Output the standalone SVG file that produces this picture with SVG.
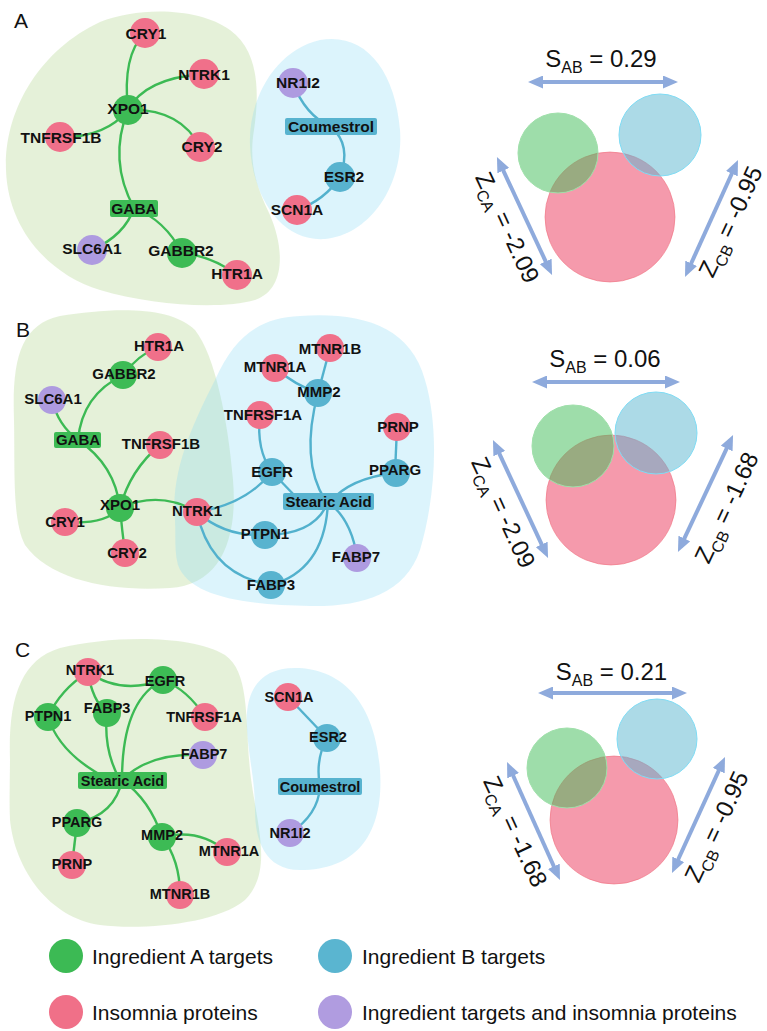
<svg xmlns="http://www.w3.org/2000/svg" width="767" height="1031" viewBox="0 0 767 1031">
<style>
.hg{fill:#a8d080;fill-opacity:0.3}
.hb{fill:#8adcf5;fill-opacity:0.3}
.eg{fill:none;stroke:#3cba54;stroke-width:2.4}
.eb{fill:none;stroke:#52b1cd;stroke-width:2.4}
.ng{fill:#3dbb55}.np{fill:#f0708a}.nb{fill:#58b3cf}.nv{fill:#ae9be0}
.lbl{font-family:"Liberation Sans",Arial,sans-serif;font-weight:bold;fill:#111;text-anchor:middle}
.fa{font-size:15.5px}.fb{font-size:15px}.fc{font-size:14.5px}
.pl{font-family:"Liberation Sans",Arial,sans-serif;font-size:21px;fill:#111}
.vt{font-family:"Liberation Sans",Arial,sans-serif;font-size:24px;fill:#111;text-anchor:middle}
.arr{stroke:#8eaadc;stroke-width:4;fill:none}
.vp{fill:#f0647f;fill-opacity:0.65;stroke:#f0707f;stroke-opacity:0.6}
.vg{fill:#3dbb55;fill-opacity:0.5;stroke:#9fe0aa;stroke-width:1}
.vb{fill:#5ab5d0;fill-opacity:0.5;stroke:#7fdcf5;stroke-width:1}
.lg{font-family:"Liberation Sans",Arial,sans-serif;font-size:21px;fill:#111}
</style>
<defs>
<marker id="ah" viewBox="0 0 15 13" refX="9" refY="6.5" markerWidth="15" markerHeight="13" markerUnits="userSpaceOnUse" orient="auto-start-reverse"><path d="M0,0 L15,6.5 L0,13 Z" fill="#8eaadc"/></marker>
</defs>

<!-- Panel labels -->
<text class="pl" x="14" y="28">A</text>
<text class="pl" x="16" y="337">B</text>
<text class="pl" x="15" y="657">C</text>

<!-- ===== Panel A ===== -->
<g id="hullsA">
<path class="hg" d="M6,170 C4,110 40,50 100,22 C140,6 200,8 230,30 C258,50 260,90 254,130 C248,165 258,190 270,215 C285,250 285,290 255,300 C220,310 150,305 100,290 C50,275 8,230 6,170 Z"/>
<path class="hb" d="M250,145 C248,100 275,50 320,40 C365,32 395,70 400,130 C404,185 370,235 325,239 C280,242 252,195 250,145 Z"/>
</g>
<g id="edgesA">
<path class="eg" d="M128,110 Q122,55 145,33"/>
<path class="eg" d="M128,110 Q145,78 204,74"/>
<path class="eg" d="M128,110 Q180,108 200,147"/>
<path class="eg" d="M128,110 Q105,138 60,137"/>
<path class="eg" d="M128,110 Q108,160 134,208"/>
<path class="eg" d="M134,208 Q125,235 92,250"/>
<path class="eg" d="M134,208 Q165,220 182,253"/>
<path class="eg" d="M182,253 Q212,256 237,275"/>
<path class="eb" d="M293,83 Q305,115 331,127"/>
<path class="eb" d="M331,127 Q352,145 340,177"/>
<path class="eb" d="M340,177 Q325,200 297,210"/>
</g>
<g id="A-CRY1"><circle class="np" cx="145" cy="33" r="15"/><text class="lbl fa" x="146" y="33" dy="0.36em">CRY1</text></g>
<g id="A-NTRK1"><circle class="np" cx="204" cy="74" r="15"/><text class="lbl fa" x="204" y="74" dy="0.36em">NTRK1</text></g>
<g id="A-XPO1"><circle class="ng" cx="128" cy="110" r="15"/><text class="lbl fa" x="128" y="108" dy="0.36em">XPO1</text></g>
<g id="A-TNFRSF1B"><circle class="np" cx="60" cy="137" r="15"/><text class="lbl fa" x="61" y="137" dy="0.36em">TNFRSF1B</text></g>
<g id="A-CRY2"><circle class="np" cx="200" cy="147" r="15"/><text class="lbl fa" x="202" y="146" dy="0.36em">CRY2</text></g>
<g id="A-GABA"><rect class="ng" x="110" y="200" width="48" height="17" rx="2"/><text class="lbl fa" x="134" y="208.5" dy="0.36em">GABA</text></g>
<g id="A-SLC6A1"><circle class="nv" cx="92" cy="250" r="15"/><text class="lbl fa" x="92" y="248" dy="0.36em">SLC6A1</text></g>
<g id="A-GABBR2"><circle class="ng" cx="182" cy="253" r="15"/><text class="lbl fa" x="181" y="250" dy="0.36em">GABBR2</text></g>
<g id="A-HTR1A"><circle class="np" cx="237" cy="275" r="15"/><text class="lbl fa" x="237" y="273" dy="0.36em">HTR1A</text></g>
<g id="A-NR1I2"><circle class="nv" cx="293" cy="83" r="15"/><text class="lbl fa" x="298" y="82" dy="0.36em">NR1I2</text></g>
<g id="A-Coumestrol"><rect class="nb" x="285" y="118" width="92" height="17" rx="2"/><text class="lbl fa" x="331" y="126.5" dy="0.36em">Coumestrol</text></g>
<g id="A-ESR2"><circle class="nb" cx="340" cy="177" r="15"/><text class="lbl fa" x="344" y="176" dy="0.36em">ESR2</text></g>
<g id="A-SCN1A"><circle class="np" cx="297" cy="210" r="15"/><text class="lbl fa" x="297" y="209" dy="0.36em">SCN1A</text></g>

<g id="vennA">
<circle class="vp" cx="610" cy="217" r="65"/>
<circle class="vg" cx="558" cy="153" r="40"/>
<circle class="vb" cx="660" cy="135" r="41"/>
<line class="arr" x1="534" y1="82" x2="672" y2="82" marker-start="url(#ah)" marker-end="url(#ah)"/>
<line class="arr" x1="499.5" y1="162.4" x2="549.5" y2="269.6" marker-start="url(#ah)" marker-end="url(#ah)"/>
<line class="arr" x1="735.5" y1="165.5" x2="687.5" y2="271.5" marker-start="url(#ah)" marker-end="url(#ah)"/>
<text class="vt" x="601" y="67">S<tspan font-size="16" dy="6">AB</tspan><tspan dy="-6"> = 0.29</tspan></text>
<text class="vt" transform="translate(500,231) rotate(65)">Z<tspan font-size="16" dy="6">CA</tspan><tspan dy="-6"> = -2.09</tspan></text>
<text class="vt" transform="translate(738,225) rotate(-65)">Z<tspan font-size="16" dy="6">CB</tspan><tspan dy="-6"> = -0.95</tspan></text>
</g>

<!-- ===== Panel B ===== -->
<g id="hullsB">
<path class="hg" d="M14,420 C12,360 20,325 60,316 C110,308 170,305 195,330 C215,355 228,420 233,480 C238,540 220,585 170,588 C110,592 50,580 25,545 C12,520 15,470 14,420 Z"/>
<path class="hb" d="M175,520 C170,470 195,420 215,380 C235,335 260,318 300,316 C360,312 410,325 425,380 C440,430 435,500 420,550 C405,595 360,607 310,606 C250,605 190,598 178,565 C174,550 176,535 175,520 Z"/>
</g>
<g id="edgesB">
<path class="eg" d="M158,347 Q138,355 123,375"/>
<path class="eg" d="M123,375 Q82,395 78,440"/>
<path class="eg" d="M52,400 Q58,425 78,440"/>
<path class="eg" d="M78,440 Q115,465 120,508"/>
<path class="eg" d="M160,445 Q130,470 120,508"/>
<path class="eg" d="M120,508 Q105,525 65,522"/>
<path class="eg" d="M120,508 Q122,530 125,553"/>
<path class="eg" d="M120,508 Q160,490 197,512"/>
<path class="eb" d="M197,512 Q245,505 272,472"/>
<path class="eb" d="M197,512 Q225,537 265,535"/>
<path class="eb" d="M197,512 Q210,575 271,585"/>
<path class="eb" d="M260,415 Q256,450 272,472"/>
<path class="eb" d="M272,472 L296,497"/>
<path class="eb" d="M275,368 Q295,385 318,393"/>
<path class="eb" d="M330,348 L318,393"/>
<path class="eb" d="M318,393 Q300,460 325,500"/>
<path class="eb" d="M397,427 L395,473"/>
<path class="eb" d="M395,473 Q350,478 330,502"/>
<path class="eb" d="M328,502 Q315,535 265,535"/>
<path class="eb" d="M328,502 Q325,570 271,585"/>
<path class="eb" d="M328,502 Q352,520 357,558"/>
</g>
<g id="B-HTR1A"><circle class="np" cx="158" cy="347" r="14"/><text class="lbl fb" x="159" y="346" dy="0.36em">HTR1A</text></g>
<g id="B-GABBR2"><circle class="ng" cx="123" cy="375" r="14"/><text class="lbl fb" x="124" y="374" dy="0.36em">GABBR2</text></g>
<g id="B-SLC6A1"><circle class="nv" cx="52" cy="400" r="14"/><text class="lbl fb" x="53" y="399" dy="0.36em">SLC6A1</text></g>
<g id="B-GABA"><rect class="ng" x="54" y="432" width="47" height="16" rx="2"/><text class="lbl fb" x="78" y="440" dy="0.36em">GABA</text></g>
<g id="B-TNFRSF1B"><circle class="np" cx="160" cy="445" r="14"/><text class="lbl fb" x="161" y="444" dy="0.36em">TNFRSF1B</text></g>
<g id="B-XPO1"><circle class="ng" cx="120" cy="508" r="14"/><text class="lbl fb" x="120" y="505" dy="0.36em">XPO1</text></g>
<g id="B-CRY1"><circle class="np" cx="65" cy="522" r="14"/><text class="lbl fb" x="65" y="522" dy="0.36em">CRY1</text></g>
<g id="B-CRY2"><circle class="np" cx="125" cy="553" r="14"/><text class="lbl fb" x="127" y="553" dy="0.36em">CRY2</text></g>
<g id="B-NTRK1"><circle class="np" cx="197" cy="512" r="14"/><text class="lbl fb" x="197" y="511" dy="0.36em">NTRK1</text></g>
<g id="B-TNFRSF1A"><circle class="np" cx="260" cy="415" r="14"/><text class="lbl fb" x="263" y="415" dy="0.36em">TNFRSF1A</text></g>
<g id="B-MTNR1A"><circle class="np" cx="275" cy="368" r="14"/><text class="lbl fb" x="275" y="367" dy="0.36em">MTNR1A</text></g>
<g id="B-MTNR1B"><circle class="np" cx="330" cy="348" r="14"/><text class="lbl fb" x="330" y="349" dy="0.36em">MTNR1B</text></g>
<g id="B-MMP2"><circle class="nb" cx="318" cy="393" r="14"/><text class="lbl fb" x="319" y="392" dy="0.36em">MMP2</text></g>
<g id="B-PRNP"><circle class="np" cx="397" cy="427" r="14"/><text class="lbl fb" x="398" y="427" dy="0.36em">PRNP</text></g>
<g id="B-PPARG"><circle class="nb" cx="396" cy="473" r="14"/><text class="lbl fb" x="395" y="470" dy="0.36em">PPARG</text></g>
<g id="B-EGFR"><circle class="nb" cx="272" cy="472" r="14"/><text class="lbl fb" x="272" y="472" dy="0.36em">EGFR</text></g>
<g id="B-StearicAcid"><rect class="nb" x="283" y="493" width="91" height="17" rx="2"/><text class="lbl fb" x="328.5" y="501.5" dy="0.36em">Stearic Acid</text></g>
<g id="B-PTPN1"><circle class="nb" cx="265" cy="535" r="14"/><text class="lbl fb" x="265" y="534" dy="0.36em">PTPN1</text></g>
<g id="B-FABP7"><circle class="nv" cx="357" cy="558" r="14"/><text class="lbl fb" x="356" y="557" dy="0.36em">FABP7</text></g>
<g id="B-FABP3"><circle class="nb" cx="271" cy="585" r="14"/><text class="lbl fb" x="271" y="585" dy="0.36em">FABP3</text></g>

<g id="vennB">
<circle class="vp" cx="611" cy="500" r="65"/>
<circle class="vg" cx="573" cy="446" r="41"/>
<circle class="vb" cx="656" cy="433" r="41"/>
<line class="arr" x1="538" y1="382" x2="674" y2="382" marker-start="url(#ah)" marker-end="url(#ah)"/>
<line class="arr" x1="495.5" y1="445.4" x2="545.5" y2="552.6" marker-start="url(#ah)" marker-end="url(#ah)"/>
<line class="arr" x1="730.5" y1="440.4" x2="680.5" y2="546.6" marker-start="url(#ah)" marker-end="url(#ah)"/>
<text class="vt" x="605" y="367">S<tspan font-size="16" dy="6">AB</tspan><tspan dy="-6"> = 0.06</tspan></text>
<text class="vt" transform="translate(496,516) rotate(65)">Z<tspan font-size="16" dy="6">CA</tspan><tspan dy="-6"> = -2.09</tspan></text>
<text class="vt" transform="translate(734,511) rotate(-65)">Z<tspan font-size="16" dy="6">CB</tspan><tspan dy="-6"> = -1.68</tspan></text>
</g>

<!-- ===== Panel C ===== -->
<g id="hullsC">
<path class="hg" d="M10,760 C8,700 20,660 60,648 C110,636 190,634 225,655 C250,672 245,720 250,770 C255,820 275,870 245,900 C215,925 140,930 100,925 C50,918 15,870 10,820 C9,800 10,780 10,760 Z"/>
<path class="hb" d="M247,730 C244,690 260,668 295,668 C340,668 375,700 380,770 C384,830 360,870 300,870 C265,870 255,840 255,810 C255,780 249,760 247,730 Z"/>
</g>
<g id="edgesC">
<path class="eg" d="M88,672 Q60,690 48,717"/>
<path class="eg" d="M88,672 Q92,700 107,713"/>
<path class="eg" d="M88,672 Q120,695 163,680"/>
<path class="eg" d="M163,680 Q188,690 205,717"/>
<path class="eg" d="M163,680 Q122,700 122,780"/>
<path class="eg" d="M48,717 Q60,755 110,780"/>
<path class="eg" d="M107,713 Q103,750 120,780"/>
<path class="eg" d="M203,755 Q150,752 122,780"/>
<path class="eg" d="M122,780 Q115,815 77,823"/>
<path class="eg" d="M77,823 L72,865"/>
<path class="eg" d="M122,780 Q150,800 162,837"/>
<path class="eg" d="M162,837 Q200,828 227,852"/>
<path class="eg" d="M162,837 Q180,860 180,895"/>
<path class="eb" d="M288,697 L327,738"/>
<path class="eb" d="M327,738 Q315,760 320,787"/>
<path class="eb" d="M320,787 Q318,815 290,833"/>
</g>
<g id="C-NTRK1"><circle class="np" cx="88" cy="672" r="14"/><text class="lbl fc" x="90" y="670" dy="0.36em">NTRK1</text></g>
<g id="C-EGFR"><circle class="ng" cx="163" cy="680" r="14"/><text class="lbl fc" x="165" y="681" dy="0.36em">EGFR</text></g>
<g id="C-PTPN1"><circle class="ng" cx="48" cy="717" r="14"/><text class="lbl fc" x="48" y="716" dy="0.36em">PTPN1</text></g>
<g id="C-FABP3"><circle class="ng" cx="107" cy="713" r="14"/><text class="lbl fc" x="107" y="708" dy="0.36em">FABP3</text></g>
<g id="C-TNFRSF1A"><circle class="np" cx="205" cy="717" r="14"/><text class="lbl fc" x="204" y="717" dy="0.36em">TNFRSF1A</text></g>
<g id="C-FABP7"><circle class="nv" cx="203" cy="755" r="14"/><text class="lbl fc" x="204" y="754" dy="0.36em">FABP7</text></g>
<g id="C-StearicAcid"><rect class="ng" x="78" y="772" width="89" height="17" rx="2"/><text class="lbl fc" x="122.5" y="780.5" dy="0.36em">Stearic Acid</text></g>
<g id="C-PPARG"><circle class="ng" cx="77" cy="823" r="14"/><text class="lbl fc" x="77" y="822" dy="0.36em">PPARG</text></g>
<g id="C-PRNP"><circle class="np" cx="72" cy="865" r="14"/><text class="lbl fc" x="72" y="864" dy="0.36em">PRNP</text></g>
<g id="C-MMP2"><circle class="ng" cx="162" cy="837" r="14"/><text class="lbl fc" x="162" y="835" dy="0.36em">MMP2</text></g>
<g id="C-MTNR1A"><circle class="np" cx="227" cy="852" r="14"/><text class="lbl fc" x="229" y="851" dy="0.36em">MTNR1A</text></g>
<g id="C-MTNR1B"><circle class="np" cx="180" cy="895" r="14"/><text class="lbl fc" x="180" y="894" dy="0.36em">MTNR1B</text></g>
<g id="C-SCN1A"><circle class="np" cx="288" cy="697" r="14"/><text class="lbl fc" x="289" y="697" dy="0.36em">SCN1A</text></g>
<g id="C-ESR2"><circle class="nb" cx="327" cy="738" r="14"/><text class="lbl fc" x="328" y="737" dy="0.36em">ESR2</text></g>
<g id="C-Coumestrol"><rect class="nb" x="278" y="778" width="84" height="17" rx="2"/><text class="lbl fc" x="320" y="786.5" dy="0.36em">Coumestrol</text></g>
<g id="C-NR1I2"><circle class="nv" cx="290" cy="833" r="14"/><text class="lbl fc" x="290" y="833" dy="0.36em">NR1I2</text></g>

<g id="vennC">
<circle class="vp" cx="614" cy="820" r="64"/>
<circle class="vg" cx="567" cy="768" r="40"/>
<circle class="vb" cx="657" cy="739" r="40"/>
<line class="arr" x1="544" y1="693" x2="681" y2="693" marker-start="url(#ah)" marker-end="url(#ah)"/>
<line class="arr" x1="509.5" y1="767.5" x2="557.5" y2="874.5" marker-start="url(#ah)" marker-end="url(#ah)"/>
<line class="arr" x1="722.5" y1="762.5" x2="674.5" y2="867.5" marker-start="url(#ah)" marker-end="url(#ah)"/>
<text class="vt" x="611.5" y="680">S<tspan font-size="16" dy="6">AB</tspan><tspan dy="-6"> = 0.21</tspan></text>
<text class="vt" transform="translate(508,835) rotate(65)">Z<tspan font-size="16" dy="6">CA</tspan><tspan dy="-6"> = -1.68</tspan></text>
<text class="vt" transform="translate(724,830) rotate(-65)">Z<tspan font-size="16" dy="6">CB</tspan><tspan dy="-6"> = -0.95</tspan></text>
</g>

<!-- ===== Legend ===== -->
<g id="legend">
<circle cx="66" cy="956" r="17" fill="#3cba54"/>
<text class="lg" x="92" y="964">Ingredient A targets</text>
<circle cx="335" cy="956" r="17" fill="#5ab5d0"/>
<text class="lg" x="362" y="964">Ingredient B targets</text>
<circle cx="66" cy="1012" r="17" fill="#f07088"/>
<text class="lg" x="92" y="1020">Insomnia proteins</text>
<circle cx="335" cy="1012" r="17" fill="#b09ce0"/>
<text class="lg" x="362" y="1020">Ingredient targets and insomnia proteins</text>
</g>
</svg>
